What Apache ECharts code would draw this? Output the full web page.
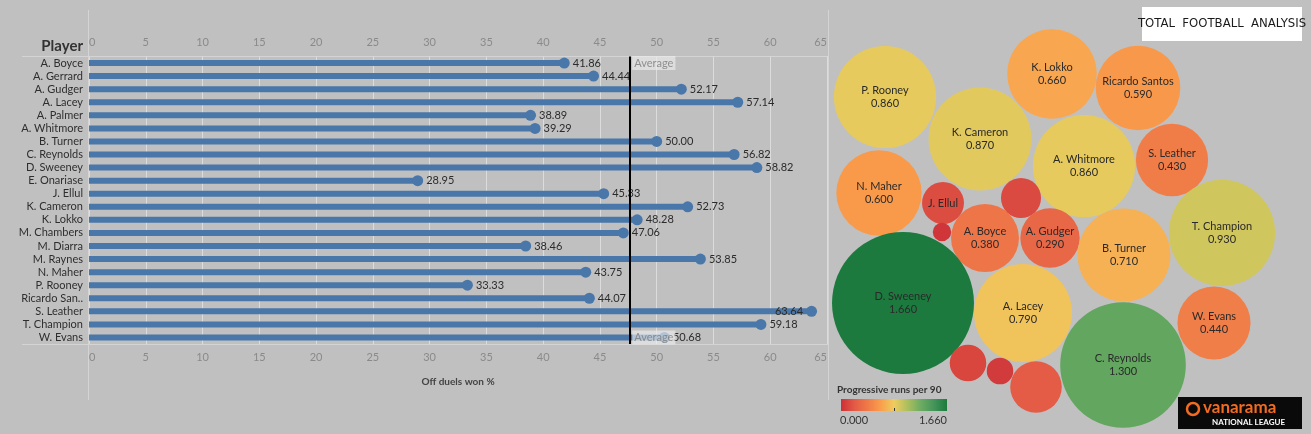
<!DOCTYPE html>
<html><head><meta charset="utf-8">
<script src="https://cdn.jsdelivr.net/npm/echarts@6/dist/echarts.min.js"></script>
<style>html,body{margin:0;padding:0;background:#c0c0c0;}#c{width:1311px;height:434px;}</style>
</head><body><div id="c"></div>
<script>
// ---- Left chart data: Off duels won % ----
const players = ["A. Boyce","A. Gerrard","A. Gudger","A. Lacey","A. Palmer","A. Whitmore","B. Turner","C. Reynolds","D. Sweeney","E. Onariase","J. Ellul","K. Cameron","K. Lokko","M. Chambers","M. Diarra","M. Raynes","N. Maher","P. Rooney","Ricardo San..","S. Leather","T. Champion","W. Evans"];
const duelsWon = [41.86,44.44,52.17,57.14,38.89,39.29,50.00,56.82,58.82,28.95,45.33,52.73,48.28,47.06,38.46,53.85,43.75,33.33,44.07,63.64,59.18,50.68];
const xTicksMin = 0, xTicksMax = 65, xTickStep = 5;

// ---- Right chart data: Progressive runs per 90 (packed bubbles) ----
const bubbleNames = ["P. Rooney","K. Lokko","Ricardo Santos","K. Cameron","A. Whitmore","S. Leather","N. Maher","J. Ellul","A. Gerrard","T. Champion","A. Palmer","A. Boyce","A. Gudger","B. Turner","D. Sweeney","A. Lacey","W. Evans","C. Reynolds","E. Onariase","M. Chambers","M. Diarra"];
const progRuns = [0.860,0.660,0.590,0.870,0.860,0.430,0.600,0.145,0.132,0.930,0.028,0.380,0.290,0.710,1.660,0.790,0.440,1.300,0.110,0.058,0.219];
// packed-layout positions (layout space)
const packX = [885,1052,1138,980,1084,1172,879,943,1021,1222,942,985,1050,1124,903,1023,1214,1123,968,1000,1036];
const packY = [97,74,88,139,166,160,193,203,198,233,232,238,238,255,303,313,323,365,363,371,387];
const labelMode = ["full","full","full","full","full","full","full","name","none","full","none","full","full","full","full","full","full","full","none","none","none"];
const scaleMin = 0.000, scaleMax = 1.660;
const rampColors = ["#cc2f37","#e35a45","#ef7a47","#fa9e4c","#efcc5e","#aebf5e","#6dac62","#45955a","#1c7a3e"];

const FONT = "Lato, 'Noto Sans', sans-serif";
const avg = duelsWon.reduce((a,b)=>a+b,0)/duelsWon.length;
const pxPerSqrt = 55.1;

const chart = echarts.init(document.getElementById('c'), null, {renderer:'canvas'});
const gradStops = rampColors.map((c,i)=>({offset:i/(rampColors.length-1), color:c}));

const option = {
  backgroundColor:'#c0c0c0',
  animation:false,
  textStyle:{fontFamily:FONT},
  grid:[
    {left:89, right:484, top:56.5, bottom:90, containLabel:false},
    {left:820, top:0, width:491, height:434}
  ],
  xAxis:[
    {gridIndex:0, type:'value', position:'top', min:xTicksMin, max:xTicksMax, interval:xTickStep,
     axisLine:{show:false}, axisTick:{show:false},
     axisLabel:{color:'#8a8a8a', fontSize:11, margin:9, fontFamily:FONT, alignMinLabel:'left', alignMaxLabel:'right'},
     splitLine:{show:true, lineStyle:{color:'#dcdcdc', width:1}}},
    {gridIndex:0, type:'value', position:'bottom', min:xTicksMin, max:xTicksMax, interval:xTickStep,
     axisLine:{show:false}, axisTick:{show:false},
     axisLabel:{color:'#8a8a8a', fontSize:11, margin:8, fontFamily:FONT, alignMinLabel:'left', alignMaxLabel:'right'},
     splitLine:{show:false},
     name:'Off duels won %', nameLocation:'middle', nameGap:33,
     nameTextStyle:{color:'#444', fontSize:10, fontWeight:'bold', fontFamily:FONT}},
    {gridIndex:1, type:'value', min:820, max:1311, show:false}
  ],
  yAxis:[
    {gridIndex:0, type:'category', data:players, inverse:true,
     axisLine:{show:false}, axisTick:{show:false}, splitLine:{show:false},
     axisLabel:{color:'#2e2e2e', fontSize:11, margin:6, interval:0, fontFamily:FONT}},
    {gridIndex:1, type:'value', min:0, max:434, inverse:true, show:false}
  ],
  visualMap:{
    show:false, type:'continuous', min:scaleMin, max:scaleMax, seriesIndex:3, dimension:2,
    inRange:{color:rampColors}
  },
  series:[
    {type:'bar', xAxisIndex:0, yAxisIndex:0, data:duelsWon, barWidth:6,
     itemStyle:{color:'#4a77a9'}, z:2,
     markLine:{silent:true, symbol:'none', label:{show:false},
       lineStyle:{color:'#000', width:2, type:'solid'}, data:[{xAxis:avg}]}},
    {type:'scatter', xAxisIndex:0, yAxisIndex:0, symbolSize:11,
     itemStyle:{color:'#4a77a9', opacity:1}, z:3,
     label:{show:true, fontSize:11, color:'#2b2b2b', fontFamily:FONT,
       formatter:p=>p.value[0].toFixed(2), position:'right', distance:3}
    },
    {type:'scatter', xAxisIndex:0, yAxisIndex:0, data:[[avg,0],[avg,players.length-1]], symbolSize:0, z:10,
     label:{show:true, position:'right', distance:2, formatter:'Average', fontSize:11, color:'#7a7a7a',
       backgroundColor:'rgba(238,238,238,0.8)', padding:[2,2,1,2], fontFamily:FONT}},
    {type:'scatter', xAxisIndex:2, yAxisIndex:1,
     data:bubbleNames.map((n,i)=>({name:n, value:[packX[i], packY[i], progRuns[i]]})),
     symbolSize:v=>2*pxPerSqrt*Math.sqrt(v[2]),
     itemStyle:{opacity:1},
     label:{show:true, position:'inside', color:'#2a2a2a', fontSize:11, lineHeight:13, fontFamily:FONT,
       formatter:p=>{const m=labelMode[p.dataIndex]; if(m==='none') return ''; if(m==='name') return p.name; return p.name+'\n'+p.value[2].toFixed(3);}}
    }
  ],
  graphic:[
    {type:'line', shape:{x1:88.5,y1:10,x2:88.5,y2:400}, style:{stroke:'#d4d4d4', lineWidth:1}, z:0},
    {type:'line', shape:{x1:828.5,y1:10,x2:828.5,y2:400}, style:{stroke:'#d4d4d4', lineWidth:1}, z:0},
    {type:'line', shape:{x1:22,y1:56.5,x2:828,y2:56.5}, style:{stroke:'#d4d4d4', lineWidth:1}, z:0},
    {type:'line', shape:{x1:22,y1:344.5,x2:828,y2:344.5}, style:{stroke:'#d4d4d4', lineWidth:1}, z:0},
    {type:'text', x:83, y:46, style:{text:'Player', textAlign:'right', textVerticalAlign:'middle', fill:'#333', font:'bold 15px '+FONT}},
    // legend
    {type:'text', x:837, y:390, style:{text:'Progressive runs per 90', textVerticalAlign:'middle', fill:'#333', font:'bold 10px '+FONT}},
    {type:'rect', shape:{x:841, y:399, width:106, height:12},
     style:{fill:new echarts.graphic.LinearGradient(0,0,1,0,gradStops)}},
    {type:'line', shape:{x1:894.5,y1:408,x2:894.5,y2:411}, style:{stroke:'#333', lineWidth:1}},
    {type:'text', x:840, y:420, style:{text:scaleMin.toFixed(3), textVerticalAlign:'middle', fill:'#333', font:'11px '+FONT}},
    {type:'text', x:947, y:420, style:{text:scaleMax.toFixed(3), textAlign:'right', textVerticalAlign:'middle', fill:'#333', font:'11px '+FONT}},
    // Total Football Analysis logo
    {type:'rect', shape:{x:1142, y:7, width:160, height:34}, style:{fill:'#ffffff'}},
    {type:'text', x:1222, y:24, style:{text:'TOTAL  FOOTBALL  ANALYSIS', textAlign:'center', textVerticalAlign:'middle', fill:'#1a1a1a', font:'13px "DejaVu Sans Condensed", sans-serif'}},
    // Vanarama logo
    {type:'rect', shape:{x:1178, y:397, width:124, height:32}, style:{fill:'#0a0a0a'}},
    {type:'circle', shape:{cx:1193, cy:409, r:6}, style:{fill:'none', stroke:'#f26b21', lineWidth:2.5}},
    {type:'text', x:1203, y:408, style:{text:'vanarama', textVerticalAlign:'middle', fill:'#f26b21', font:'bold 17px '+FONT}},
    {type:'text', x:1212, y:422, style:{text:'NATIONAL LEAGUE', textVerticalAlign:'middle', fill:'#ffffff', font:'bold 8px '+FONT}}
  ]
};
// points at the right edge of the axis: label drawn to the left of the dot
option.series[1].data = duelsWon.map((v,i)=> v>62 ? {value:[v,i], label:{position:'left', distance:3}} : [v,i]);
chart.setOption(option);
</script>
</body></html>
